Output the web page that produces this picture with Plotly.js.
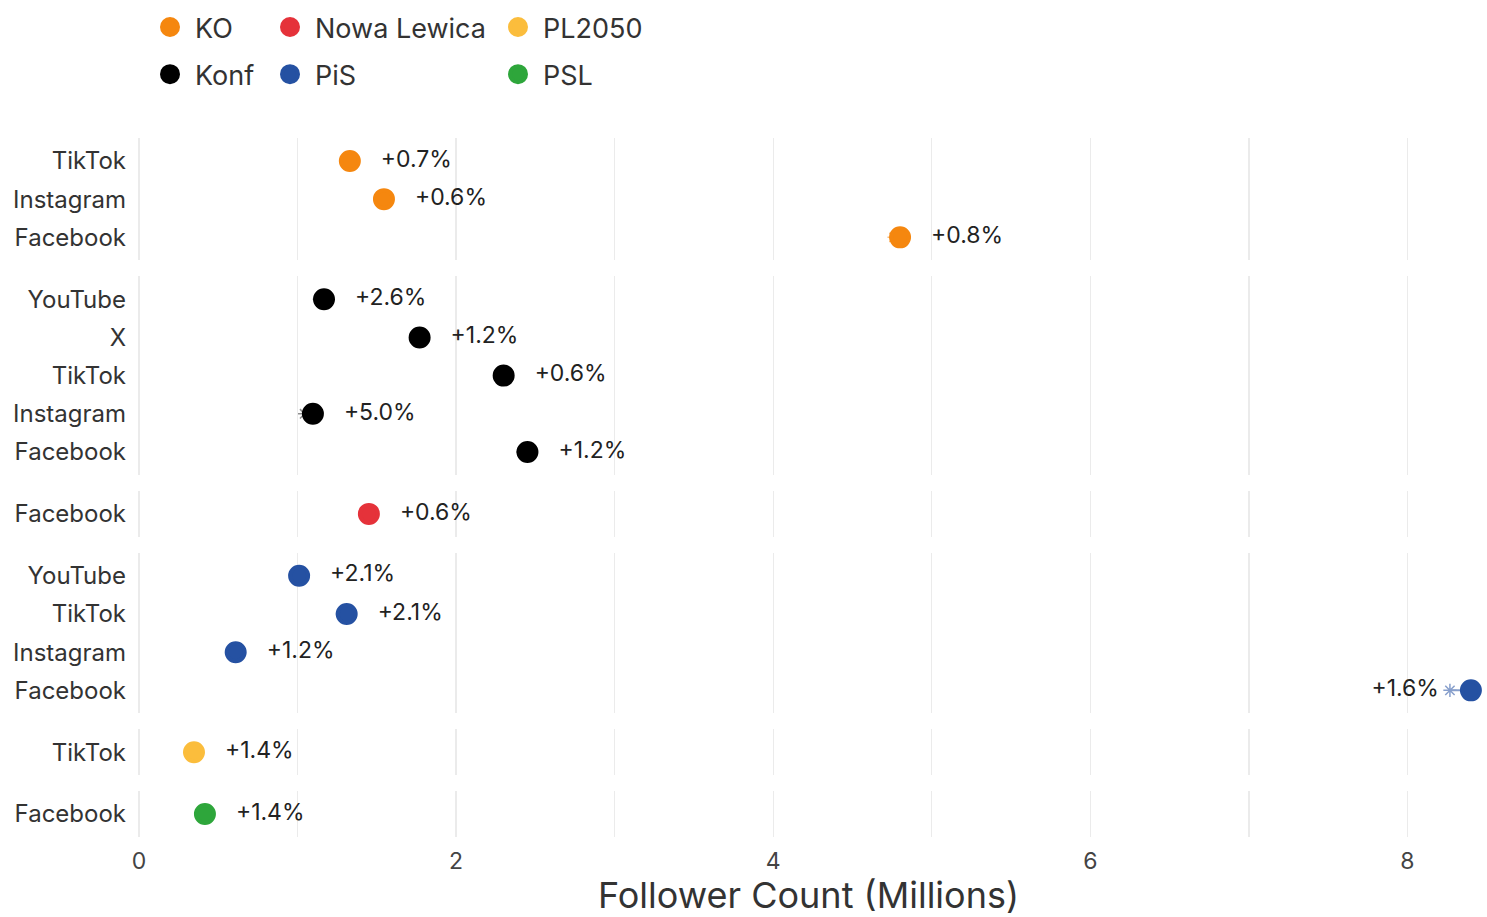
<!DOCTYPE html>
<html>
<head>
<meta charset="utf-8">
<script src="https://cdn.plot.ly/plotly-3.0.1.min.js"></script>
<style>
  html, body { margin: 0; padding: 0; background: #fff; }
  #chart { width: 1487px; height: 917px; }
</style>
</head>
<body>
<div id="chart"></div>
<script>
// ---- data (follower counts in millions, growth in %) ----
const parties = ['KO', 'Konf', 'Nowa Lewica', 'PiS', 'PL2050', 'PSL'];
const partyColors = ['#f5870f', '#000000', '#e5323a', '#2551a2', '#fbbd3c', '#2ea63b'];

const koPlatforms = ['TikTok', 'Instagram', 'Facebook'];
const koFollowers = [1.33, 1.545, 4.80];
const koGrowth = [0.7, 0.6, 0.8];

const konfPlatforms = ['YouTube', 'X', 'TikTok', 'Instagram', 'Facebook'];
const konfFollowers = [1.167, 1.77, 2.30, 1.097, 2.45];
const konfGrowth = [2.6, 1.2, 0.6, 5.0, 1.2];

const nlPlatforms = ['Facebook'];
const nlFollowers = [1.45];
const nlGrowth = [0.6];

const pisPlatforms = ['YouTube', 'TikTok', 'Instagram', 'Facebook'];
const pisFollowers = [1.01, 1.31, 0.61, 8.40];
const pisGrowth = [2.1, 2.1, 1.2, 1.6];

const pl2050Platforms = ['TikTok'];
const pl2050Followers = [0.347];
const pl2050Growth = [1.4];

const pslPlatforms = ['Facebook'];
const pslFollowers = [0.416];
const pslGrowth = [1.4];

const xTicks = [0, 2, 4, 6, 8];

const platformsByParty = [koPlatforms, konfPlatforms, nlPlatforms, pisPlatforms, pl2050Platforms, pslPlatforms];
const followersByParty = [koFollowers, konfFollowers, nlFollowers, pisFollowers, pl2050Followers, pslFollowers];
const growthByParty = [koGrowth, konfGrowth, nlGrowth, pisGrowth, pl2050Growth, pslGrowth];

// ---- layout helpers ----
const W = 1487, H = 917;
const margin = {l: 135, r: 5, t: 138, b: 80, autoexpand: false};
const xRange = [-0.025, 8.47];
const plotH = H - margin.t - margin.b;
const gapPx = 16;
const units = platformsByParty.map(p => p.length + 0.2);
const totalUnits = units.reduce((a, b) => a + b, 0);
const unitPx = (plotH - gapPx * (parties.length - 1)) / totalUnits;

function rgba(hex, a) {
  const n = parseInt(hex.slice(1), 16);
  return `rgba(${(n >> 16) & 255},${(n >> 8) & 255},${n & 255},${a})`;
}
function lighten(hex, f) {
  const n = parseInt(hex.slice(1), 16);
  const c = [(n >> 16) & 255, (n >> 8) & 255, n & 255].map(v => Math.round(v + (255 - v) * f));
  return `rgb(${c[0]},${c[1]},${c[2]})`;
}

const FONT = 'Inter, "Noto Sans", "DejaVu Sans", sans-serif';
const traces = [];
const layout = {
  width: W, height: H,
  margin: margin,
  paper_bgcolor: '#ffffff',
  plot_bgcolor: '#ffffff',
  font: {family: FONT, color: '#333333', size: 22},
  showlegend: true,
  xaxis: {
    range: xRange,
    tickvals: xTicks,
    ticktext: xTicks.map(String),
    showgrid: true,
    gridcolor: '#ebebeb',
    gridwidth: 1.2,
    minor: {dtick: 1, tick0: 0, showgrid: true, gridcolor: '#ebebeb', gridwidth: 1.2},
    zeroline: false,
    showline: false,
    ticks: '',
    ticklabelstandoff: 8,
    tickfont: {size: 23, color: '#444444', family: FONT},
    anchor: 'y' + parties.length,
    title: {text: 'Follower Count (Millions)', font: {size: 36, color: '#333333', family: FONT}, standoff: 12}
  }
};

let topPx = 0; // from top of plot area
parties.forEach((party, i) => {
  const plats = platformsByParty[i];
  const vals = followersByParty[i];
  const gr = growthByParty[i];
  const color = partyColors[i];
  const segColor = color === '#000000' ? '#333333' : color;
  const hPx = units[i] * unitPx;
  const d0 = 1 - (topPx + hPx) / plotH;
  const d1 = 1 - topPx / plotH;
  topPx += hPx + gapPx;

  const yName = i === 0 ? 'y' : 'y' + (i + 1);
  const axKey = i === 0 ? 'yaxis' : 'yaxis' + (i + 1);
  layout[axKey] = {
    domain: [Math.max(0, d0), Math.min(1, d1)],
    anchor: 'x',
    type: 'category',
    categoryorder: 'array',
    categoryarray: plats.slice().reverse(),
    range: [-0.6, plats.length - 0.4],
    showgrid: false,
    zeroline: false,
    showline: false,
    ticks: '',
    ticklabelstandoff: 8,
    tickfont: {size: 24, color: '#333333', family: FONT},
    fixedrange: true
  };

  const prev = vals.map((v, k) => v / (1 + gr[k] / 100));

  // change segments (previous -> current)
  const sx = [], sy = [];
  plats.forEach((p, k) => { sx.push(prev[k], vals[k], null); sy.push(p, p, null); });
  traces.push({
    type: 'scatter', mode: 'lines', x: sx, y: sy, yaxis: yName, xaxis: 'x',
    line: {color: rgba(segColor, 0.55), width: 2},
    showlegend: false, hoverinfo: 'skip'
  });
  traces.push({
    type: 'scatter', mode: 'markers', x: prev, y: plats, yaxis: yName, xaxis: 'x',
    marker: {symbol: 'asterisk-open', size: 11, color: lighten(segColor, 0.45), line: {color: lighten(segColor, 0.45), width: 1.5}},
    showlegend: false, hoverinfo: 'skip'
  });

  // current values
  traces.push({
    type: 'scatter', mode: 'markers', x: vals, y: plats, yaxis: yName, xaxis: 'x',
    name: party,
    legend: ['legend', 'legend2', 'legend3'][Math.floor(i / 2)],
    legendgroup: party,
    marker: {color: color, size: 18, line: {color: color, width: 4}},
    hovertemplate: '%{y}: %{x:.2f}M<extra>' + party + '</extra>'
  });

  // growth labels: to the right of the dot, or left of the start point when near the axis end
  const nearEnd = vals.map(v => v > xRange[1] - 0.5);
  traces.push({
    type: 'scatter', mode: 'markers+text',
    x: vals.map((v, k) => nearEnd[k] ? prev[k] : v),
    y: plats, yaxis: yName, xaxis: 'x',
    text: gr.map(g => '+' + g.toFixed(1) + '%'),
    textposition: nearEnd.map(e => e ? 'middle left' : 'middle right'),
    textfont: {size: 23, color: '#222222', family: FONT},
    marker: {size: nearEnd.map(e => e ? 16 : 48), opacity: 0},
    showlegend: false, hoverinfo: 'skip'
  });
});

const legendBase = {
  orientation: 'v',
  xref: 'container', yref: 'container',
  xanchor: 'left', yanchor: 'top',
  y: 1 - 3 / H,
  bgcolor: 'rgba(0,0,0,0)',
  font: {size: 27, color: '#333333', family: FONT},
  tracegroupgap: 9,
  itemwidth: 40,
  itemclick: false, itemdoubleclick: false
};
layout.legend = Object.assign({}, legendBase, {x: 145 / W});
layout.legend2 = Object.assign({}, legendBase, {x: 265 / W});
layout.legend3 = Object.assign({}, legendBase, {x: 493 / W});

Plotly.newPlot('chart', traces, layout, {displayModeBar: false, staticPlot: true});
</script>
</body>
</html>
